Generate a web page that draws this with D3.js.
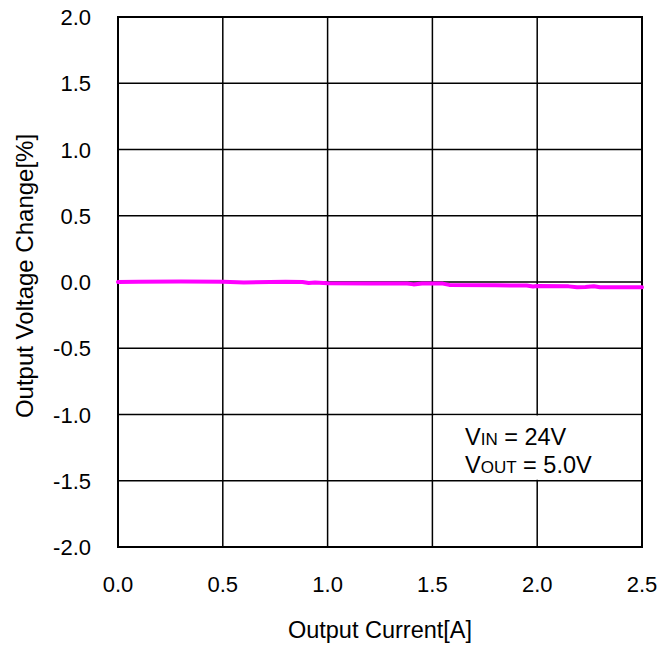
<!DOCTYPE html>
<html>
<head>
<script src="https://d3js.org/d3.v7.min.js" charset="utf-8"></script>
<style type="text/css">
  body { margin: 0; background: #fff; }
  text { font-family: "Liberation Sans", Arial, sans-serif; fill: #000; }
</style>
</head>
<body>
<script type="text/javascript">
// values
var currents = [0.0, 0.1, 0.3, 0.5, 0.57, 0.6, 0.8, 0.88, 0.91, 0.94, 1.0, 1.2, 1.38, 1.41, 1.45, 1.55, 1.58, 1.8, 1.95, 1.98, 2.0, 2.15, 2.19, 2.23, 2.27, 2.3, 2.5];
var changes  = [0.0, 0.002, 0.003, 0.001, -0.001, -0.004, 0.001, 0.0, -0.008, -0.004, -0.01, -0.012, -0.012, -0.018, -0.012, -0.012, -0.022, -0.025, -0.027, -0.034, -0.03, -0.033, -0.04, -0.038, -0.032, -0.04, -0.04];
var xTicks = [0, 0.5, 1.0, 1.5, 2.0, 2.5];
var yTicks = [-2.0, -1.5, -1.0, -0.5, 0.0, 0.5, 1.0, 1.5, 2.0];

var W = 670, H = 646;
var pLeft = 118, pRight = 642, pTop = 17, pBottom = 547;

var svg = d3.select("body").append("svg").attr("width", W).attr("height", H);

var x = d3.scaleLinear().domain([0, 2.5]).range([pLeft, pRight]);
var y = d3.scaleLinear().domain([-2, 2]).range([pBottom, pTop]);

// grid
svg.selectAll("line.vg").data(xTicks).enter().append("line")
  .attr("x1", function(d) { return x(d); }).attr("x2", function(d) { return x(d); })
  .attr("y1", pTop).attr("y2", pBottom)
  .attr("stroke", "#000").attr("stroke-width", 1.5);
svg.selectAll("line.hg").data(yTicks).enter().append("line")
  .attr("y1", function(d) { return y(d); }).attr("y2", function(d) { return y(d); })
  .attr("x1", pLeft).attr("x2", pRight)
  .attr("stroke", "#000").attr("stroke-width", 1.5);

svg.append("rect").attr("x", pLeft).attr("y", pTop)
  .attr("width", pRight - pLeft).attr("height", pBottom - pTop)
  .attr("fill", "none").attr("stroke", "#000").attr("stroke-width", 2);

// curve
var pts = currents.map(function(c, i) { return [c, changes[i]]; });
svg.append("path").datum(pts)
  .attr("d", d3.line().x(function(d) { return x(d[0]); }).y(function(d) { return y(d[1]); }))
  .attr("fill", "none").attr("stroke", "#ff00ff").attr("stroke-width", 4)
  .attr("stroke-linejoin", "round").attr("stroke-linecap", "round");

// tick labels
svg.selectAll("text.xt").data(xTicks).enter().append("text")
  .attr("x", function(d) { return x(d); }).attr("y", 592)
  .attr("text-anchor", "middle").attr("font-size", 22)
  .text(function(d) { return d.toFixed(1); });
svg.selectAll("text.yt").data(yTicks).enter().append("text")
  .attr("x", 91).attr("y", function(d) { return y(d) + 8; })
  .attr("text-anchor", "end").attr("font-size", 22)
  .text(function(d) { return d.toFixed(1); });

// axis titles
svg.append("text").attr("x", x(1.25)).attr("y", 638)
  .attr("text-anchor", "middle").attr("font-size", 23.5).text("Output Current[A]");
svg.append("text").attr("transform", "translate(33,276) rotate(-90)")
  .attr("text-anchor", "middle").attr("font-size", 24).text("Output Voltage Change[%]");

// conditions box (white, hides the 2.0 gridline behind the text)
svg.append("rect")
  .attr("x", x(1.5) + 1).attr("y", y(-1.0) + 1)
  .attr("width", x(2.5) - x(1.5) - 2).attr("height", y(-1.5) - y(-1.0) - 2)
  .attr("fill", "#fff");
var t1 = svg.append("text").attr("x", 465).attr("y", 445).attr("font-size", 23.5);
t1.append("tspan").text("V");
t1.append("tspan").attr("font-size", 17).text("IN");
t1.append("tspan").text(" = 24V");
var t2 = svg.append("text").attr("x", 465).attr("y", 473).attr("font-size", 23.5);
t2.append("tspan").text("V");
t2.append("tspan").attr("font-size", 17).text("OUT");
t2.append("tspan").text(" = 5.0V");
</script>
</body>
</html>
